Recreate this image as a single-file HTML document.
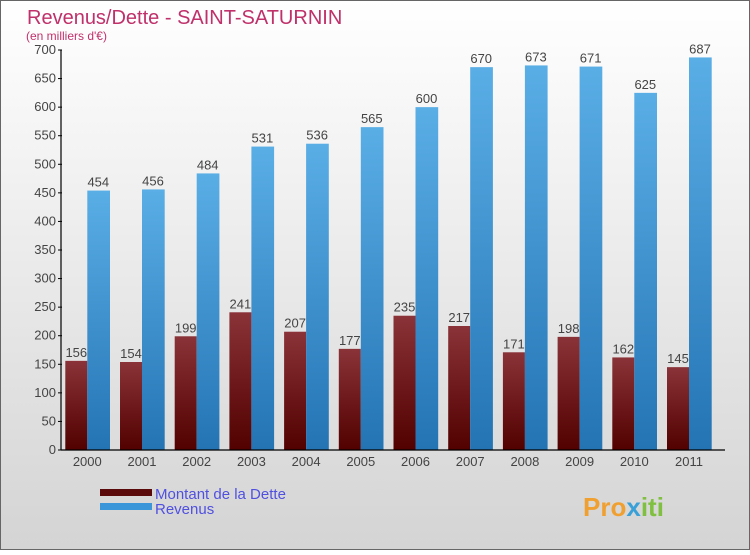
<!DOCTYPE html>
<html><head><meta charset="utf-8"><style>
body{margin:0;}
#c{width:750px;height:550px;position:relative;font-family:"Liberation Sans",sans-serif;}
</style></head><body>
<div id="c">
<svg id="s" width="750" height="550" xmlns="http://www.w3.org/2000/svg" font-family="Liberation Sans, sans-serif">
<defs>
<linearGradient id="bg" x1="0" y1="0" x2="0" y2="1"><stop offset="0" stop-color="#ffffff"/><stop offset="1" stop-color="#d4d4d4"/></linearGradient>
<linearGradient id="gd" x1="0" y1="0" x2="0" y2="1"><stop offset="0" stop-color="#8a3338"/><stop offset="1" stop-color="#520000"/></linearGradient>
<linearGradient id="gr" x1="0" y1="0" x2="0" y2="1"><stop offset="0" stop-color="#5aaee6"/><stop offset="1" stop-color="#2474b4"/></linearGradient>
</defs>
<rect x="0.5" y="0.5" width="749" height="549" fill="url(#bg)" stroke="#666"/>
<text x="27" y="24" font-size="20" fill="#c0306a">Revenus/Dette - SAINT-SATURNIN</text>
<text x="26" y="40" font-size="12" fill="#c0306a">(en milliers d'€)</text>
<g id="grid"></g><g id="bars"></g><g id="axes"></g>
<rect x="100" y="489" width="52" height="7" fill="#5a0a0a"/>
<text x="155" y="499" font-size="15" fill="#5050e0">Montant de la Dette</text>
<rect x="100" y="503" width="52" height="7" fill="#3a96d8"/>
<text x="155" y="514" font-size="15" fill="#5050e0">Revenus</text>
<text x="583" y="516" font-size="26" font-weight="bold" fill="#f0a030">Pro<tspan fill="#3aa0d8">x</tspan><tspan fill="#80c040">iti</tspan></text>
</svg></div>
<script>
const years=["2000","2001","2002","2003","2004","2005","2006","2007","2008","2009","2010","2011"];
const dette=[156,154,199,241,207,177,235,217,171,198,162,145];
const revenus=[454,456,484,531,536,565,600,670,673,671,625,687];
const ticks=[0,50,100,150,200,250,300,350,400,450,500,550,600,650,700];
const NS="http://www.w3.org/2000/svg";
const y0=450,yTop=50,maxV=700,x0=65.3,step=54.7,bw=22;
const yS=v=>y0-(v/maxV)*(y0-yTop);
function mk(t,a,p){const e=document.createElementNS(NS,t);for(const k in a)e.setAttribute(k,a[k]);p.appendChild(e);return e;}
const bars=document.getElementById('bars'),axes=document.getElementById('axes');
years.forEach((y,i)=>{
 const x=x0+i*step;
 const d=mk('rect',{x:x,y:yS(dette[i]),width:bw,height:y0-yS(dette[i]),fill:'url(#gd)'},bars);
 
 
 const r=mk('rect',{x:x+bw,y:yS(revenus[i]),width:bw+0.7,height:y0-yS(revenus[i]),fill:'url(#gr)'},bars);
 
 
 const t1=mk('text',{x:x+bw/2,y:yS(dette[i])-4,'font-size':13,'text-anchor':'middle',fill:'#444'},bars);t1.textContent=dette[i];
 
 
 const t2=mk('text',{x:x+bw*1.5,y:yS(revenus[i])-4,'font-size':13,'text-anchor':'middle',fill:'#444'},bars);t2.textContent=revenus[i];
 
 
 const xl=mk('text',{x:x+bw,y:466,'font-size':13,'text-anchor':'middle',fill:'#444'},axes);xl.textContent=y;
 
 
});
mk('line',{x1:61,y1:yTop,x2:61,y2:y0,stroke:'#000','stroke-width':1.2},axes);
mk('line',{x1:61,y1:y0,x2:725,y2:y0,stroke:'#000','stroke-width':1.2},axes);
ticks.forEach(v=>{
 mk('line',{x1:58,y1:yS(v),x2:62,y2:yS(v),stroke:'#000'},axes);
 const t=mk('text',{x:56,y:yS(v)+4,'font-size':13,'text-anchor':'end',fill:'#444'},axes);t.textContent=v;
 
 
});
</script>
</body></html>
